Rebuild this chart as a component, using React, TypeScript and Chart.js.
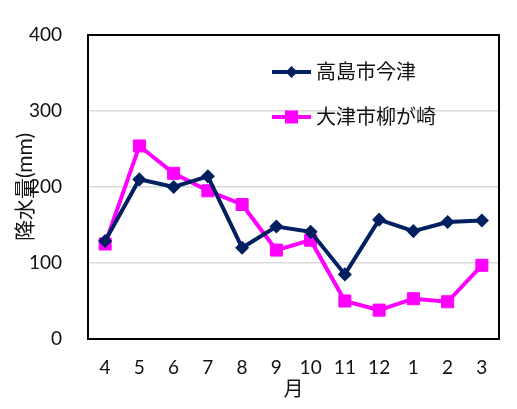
import React, { useEffect, useRef } from "react";
import { Chart, registerables } from "chart.js";

Chart.register(...registerables);

const months = ["4", "5", "6", "7", "8", "9", "10", "11", "12", "1", "2", "3"];
const takashimaImazu = [129, 210, 200, 214, 120, 148, 141, 85, 157, 142, 154, 156];
const otsuYanagasaki = [125, 254, 218, 195, 177, 117, 130, 50, 38, 53, 49, 97];
const seriesNames = ["高島市今津", "大津市柳が崎"];
const yTicks = [0, 100, 200, 300, 400];

const FONT = "Lato, 'Noto Sans CJK JP', sans-serif";
const NAVY = "#002060";
const PINK = "#FF00FF";
const TEXT = "#111111";

const framePlugin = {
  id: "frame",
  afterDraw(chart: any) {
    const { ctx, chartArea } = chart;
    ctx.save();
    ctx.strokeStyle = "#000000";
    ctx.lineWidth = 2;
    ctx.strokeRect(chartArea.left, chartArea.top, chartArea.right - chartArea.left, chartArea.bottom - chartArea.top);
    ctx.restore();
  },
};

const legendPlugin = {
  id: "customLegend",
  afterDraw(chart: any) {
    const { ctx, chartArea } = chart;
    const x0 = chartArea.left + 184;
    const ys = [chartArea.top + 37, chartArea.top + 82];
    chart.data.datasets.forEach((ds: any, i: number) => {
      const y = ys[i];
      ctx.save();
      ctx.strokeStyle = ds.borderColor;
      ctx.lineWidth = ds.borderWidth;
      ctx.beginPath();
      ctx.moveTo(x0, y);
      ctx.lineTo(x0 + 39, y);
      ctx.stroke();
      ctx.fillStyle = ds.pointBackgroundColor;
      ctx.beginPath();
      if (ds.pointStyle === "rectRot") {
        const r = 6;
        ctx.moveTo(x0 + 19.5, y - r);
        ctx.lineTo(x0 + 19.5 + r, y);
        ctx.lineTo(x0 + 19.5, y + r);
        ctx.lineTo(x0 + 19.5 - r, y);
        ctx.closePath();
      } else {
        ctx.rect(x0 + 19.5 - 6.5, y - 6.5, 13, 13);
      }
      ctx.fill();
      ctx.fillStyle = TEXT;
      ctx.font = `20px ${FONT}`;
      ctx.textBaseline = "middle";
      ctx.textAlign = "left";
      ctx.fillText(ds.label, x0 + 44, y + 1);
      ctx.restore();
    });
  },
};

export default function App() {
  const ref = useRef<HTMLCanvasElement | null>(null);

  useEffect(() => {
    document.body.style.margin = "0";
    const canvas = ref.current;
    if (!canvas) return;
    const chart = new Chart(canvas, {
      type: "line",
      data: {
        labels: months,
        datasets: [
          {
            label: seriesNames[0],
            data: takashimaImazu,
            borderColor: NAVY,
            backgroundColor: NAVY,
            pointBackgroundColor: NAVY,
            pointBorderColor: NAVY,
            borderWidth: 4,
            pointStyle: "rectRot",
            pointRadius: 6,
            pointBorderWidth: 1.5,
            tension: 0,
          } as any,
          {
            label: seriesNames[1],
            data: otsuYanagasaki,
            borderColor: PINK,
            backgroundColor: PINK,
            pointBackgroundColor: PINK,
            pointBorderColor: PINK,
            borderWidth: 4,
            pointStyle: "rect",
            pointRadius: 8.5,
            pointBorderWidth: 1,
            tension: 0,
          } as any,
        ],
      },
      options: {
        animation: false,
        responsive: false,
        devicePixelRatio: 1,
        layout: { padding: { top: 35, right: 18, left: 0, bottom: 0 } },
        plugins: {
          legend: { display: false },
          tooltip: { enabled: false },
        },
        scales: {
          x: {
            type: "category",
            offset: true,
            grid: { display: false, drawTicks: false },
            border: { display: false },
            ticks: {
              color: TEXT,
              font: { family: FONT, size: 19 },
              padding: 17,
              maxRotation: 0,
              autoSkip: false,
            },
            title: {
              display: true,
              text: "月",
              color: TEXT,
              font: { family: FONT, size: 20 },
              padding: { top: 0, bottom: 7 },
            },
            afterFit: (s: any) => {
              s.height = 70;
              s.paddingLeft = 0;
              s.paddingRight = 0;
            },
          },
          y: {
            min: 0,
            max: 400,
            afterBuildTicks: (s: any) => {
              s.ticks = yTicks.map((v) => ({ value: v }));
            },
            grid: { color: "#d9d9d9", lineWidth: 1.5, drawTicks: false },
            border: { display: false },
            ticks: {
              color: TEXT,
              font: { family: FONT, size: 19 },
              padding: 26,
            },
            title: {
              display: true,
              text: "降水量(mm)",
              color: TEXT,
              font: { family: FONT, size: 21 },
              padding: { top: 13, bottom: 0 },
            },
            afterFit: (s: any) => {
              s.width = 88;
              s.paddingTop = 0;
              s.paddingBottom = 0;
            },
          },
        },
      },
      plugins: [framePlugin, legendPlugin],
    });
    return () => chart.destroy();
  }, []);

  return (
    <div style={{ width: 517, height: 409 }}>
      <canvas ref={ref} width={517} height={409} style={{ display: "block", width: 517, height: 409 }} />
    </div>
  );
}
